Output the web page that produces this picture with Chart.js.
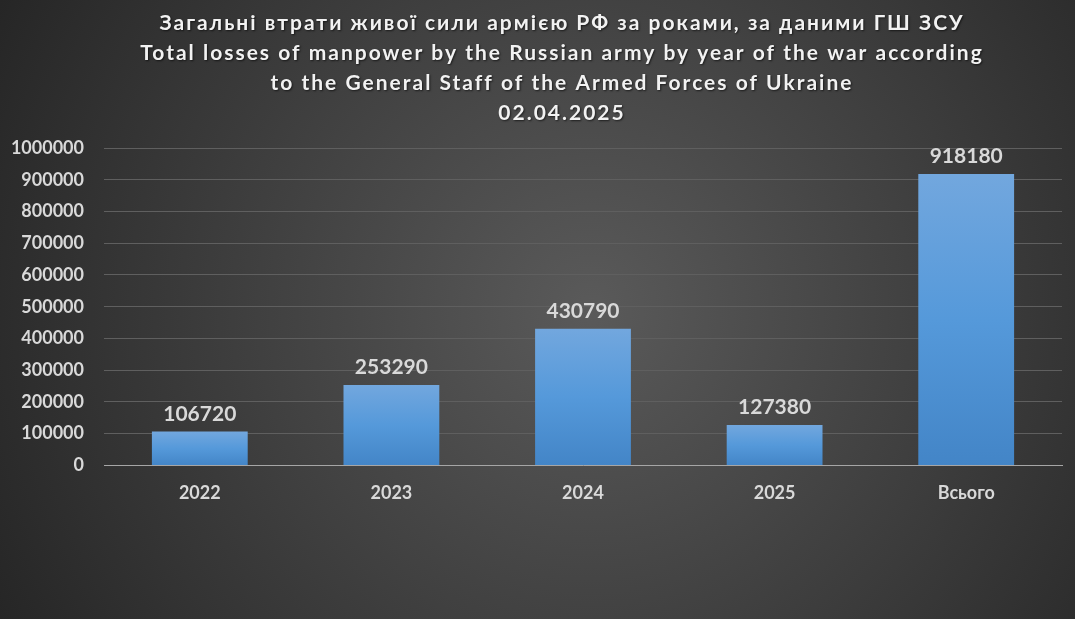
<!DOCTYPE html>
<html>
<head>
<meta charset="utf-8">
<script src="https://cdn.jsdelivr.net/npm/chart.js@4"></script>
<style>
  html, body { margin: 0; padding: 0; background: #333; }
  #box { width: 1075px; height: 619px; }
</style>
</head>
<body>
<div id="box"><canvas id="chart"></canvas></div>
<script>
// categories and values
const categories = ["2022", "2023", "2024", "2025", "Всього"];
const losses = [106720, 253290, 430790, 127380, 918180];

const titleLines = [
  "Загальні втрати живої сили армією РФ за роками, за даними ГШ ЗСУ",
  "Total losses of manpower by the Russian army by year of the war according",
  "to the General Staff of the Armed Forces of Ukraine",
  "02.04.2025"
];

const FONT = "Lato, 'Open Sans', sans-serif";

// dark radial background, lighter in the middle
const backgroundPlugin = {
  id: "bg",
  beforeDraw(chart) {
    const ctx = chart.ctx;
    const w = chart.width, h = chart.height;
    const g = ctx.createRadialGradient(w * 0.55, h * 0.5, 0, w * 0.55, h * 0.5, w * 0.62);
    g.addColorStop(0, "#5a5a5a");
    g.addColorStop(1, "#262626");
    ctx.save();
    ctx.fillStyle = g;
    ctx.fillRect(0, 0, w, h);
    ctx.restore();
  }
};

// title block with soft shadow, letters spaced out a little
const titlePlugin = {
  id: "titleBlock",
  afterDraw(chart) {
    const ctx = chart.ctx;
    ctx.save();
    ctx.font = "bold 21px " + FONT;
    ctx.letterSpacing = "2px";
    ctx.fillStyle = "#f2f2f2";
    ctx.textAlign = "center";
    ctx.textBaseline = "middle";
    ctx.shadowColor = "rgba(0,0,0,0.6)";
    ctx.shadowOffsetX = 1;
    ctx.shadowOffsetY = 1;
    ctx.shadowBlur = 2;
    titleLines.forEach((line, i) => {
      ctx.fillText(line, 562, 23 + i * 30);
    });
    ctx.restore();
  }
};

// value labels above bars
const valueLabels = {
  id: "valueLabels",
  afterDatasetsDraw(chart) {
    const ctx = chart.ctx;
    const meta = chart.getDatasetMeta(0);
    ctx.save();
    ctx.font = "bold 21px " + FONT;
    ctx.fillStyle = "#d9d9d9";
    ctx.textAlign = "center";
    ctx.textBaseline = "bottom";
    meta.data.forEach((bar, i) => {
      ctx.fillText(String(losses[i]), bar.x, bar.y - 7);
    });
    ctx.restore();
  }
};

new Chart(document.getElementById("chart"), {
  type: "bar",
  plugins: [backgroundPlugin, valueLabels, titlePlugin],
  data: {
    labels: categories,
    datasets: [{
      data: losses,
      backgroundColor(context) {
        const chart = context.chart;
        const area = chart.chartArea;
        if (!area || context.parsed === undefined) return "#5b9bd5";
        const y = chart.scales.y;
        const top = y.getPixelForValue(context.parsed.y);
        const bottom = y.getPixelForValue(0);
        if (!isFinite(top) || bottom - top < 1) return "#5b9bd5";
        const g = chart.ctx.createLinearGradient(0, top, 0, bottom);
        g.addColorStop(0, "#72a7de");
        g.addColorStop(0.5, "#5599da");
        g.addColorStop(1, "#4385c7");
        return g;
      },
      borderWidth: 0,
      categoryPercentage: 0.5,
      barPercentage: 1
    }]
  },
  options: {
    responsive: true,
    maintainAspectRatio: false,
    animation: false,
    layout: { padding: { top: 148, right: 13, bottom: 98, left: 10 } },
    plugins: {
      legend: { display: false },
      tooltip: { enabled: false },
      title: { display: false }
    },
    scales: {
      x: {
        grid: { display: false, drawTicks: false },
        border: { color: "#a6a6a6", width: 1 },
        ticks: {
          color: "#d9d9d9",
          font: { family: FONT, size: 18, weight: "bold" },
          padding: 17
        }
      },
      y: {
        min: 0,
        max: 1000000,
        afterFit(scale) { scale.width = 94; },
        grid: { color: "#5f5f5f", lineWidth: 1, drawTicks: false },
        border: { display: false },
        ticks: {
          stepSize: 100000,
          color: "#d9d9d9",
          font: { family: FONT, size: 18, weight: "bold" },
          padding: 20,
          callback: (v) => String(v)
        }
      }
    }
  }
});
</script>
</body>
</html>
